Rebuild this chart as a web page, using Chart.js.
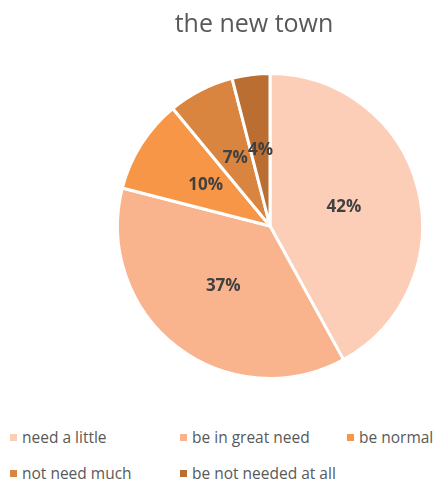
<!DOCTYPE html>
<html>
<head>
<meta charset="utf-8">
<script src="https://cdn.jsdelivr.net/npm/chart.js@4"></script>
<style>
	html, body { margin: 0; padding: 0; background: #fff; }
	#wrap { position: relative; width: 435px; height: 485px; font-family: "Open Sans", "Noto Sans", sans-serif; color: #595959; }
	#title { position: absolute; left: 0; width: 508px; top: 5px; text-align: center; font-size: 25px; }
	#plot { position: absolute; left: 0; top: 0; }
	.item { position: absolute; font-size: 15.5px; line-height: 20px; white-space: nowrap; }
	.item i { display: inline-block; width: 7px; height: 7px; margin-right: 5px; vertical-align: 2px; }
</style>
</head>
<body>
<div id="wrap">
	<canvas id="plot" width="435" height="400"></canvas>
	<div id="title">the new town</div>
	<div id="legend"></div>
</div>
<script>

const labels = [ 'need a little', 'be in great need', 'be normal', 'not need much', 'be not needed at all' ];
const values = [ 42, 37, 10, 7, 4 ];
const colors = [ '#FCCDB7', '#F9B48E', '#F79646', '#DA853F', '#BA6E32' ];

// legend slots: three columns, two rows
const legendX = [ 10, 180, 347 ];
const legendY = [ 427, 463 ];

const legend = document.getElementById('legend');

labels.forEach( ( label, i ) => {

	const item = document.createElement('div');
	item.className = 'item';
	item.style.left = legendX[ i % 3 ] + 'px';
	item.style.top = legendY[ Math.floor( i / 3 ) ] + 'px';
	item.innerHTML = '<i style="background:' + colors[i] + '"></i>' + label;
	legend.appendChild( item );

});

/* percentage labels inside each slice */
const sliceLabels = {
	id: 'sliceLabels',
	afterDatasetsDraw( chart ) {

		const ctx = chart.ctx;
		const meta = chart.getDatasetMeta(0);

		ctx.save();
		ctx.font = 'bold 17px "Open Sans", "Noto Sans", sans-serif';
		ctx.fillStyle = '#404040';
		ctx.textAlign = 'center';
		ctx.textBaseline = 'middle';

		meta.data.forEach( ( arc, i ) => {

			const p = arc.getCenterPoint();
			ctx.fillText( values[i] + '%', p.x, p.y );

		});

		ctx.restore();

	}
};

const pieChart = new Chart( document.getElementById('plot'), {
	type: 'pie',
	data: {
		labels: labels,
		datasets: [{
			data: values,
			backgroundColor: colors,
			borderColor: '#ffffff',
			borderWidth: 3
		}]
	},
	options: {
		responsive: false,
		animation: false,
		layout: {
			padding: { top: 72, bottom: 20, left: 116, right: 11 }
		},
		plugins: {
			legend: { display: false },
			title: { display: false },
			tooltip: { enabled: false }
		}
	},
	plugins: [ sliceLabels ]
});

</script>
</body>
</html>
